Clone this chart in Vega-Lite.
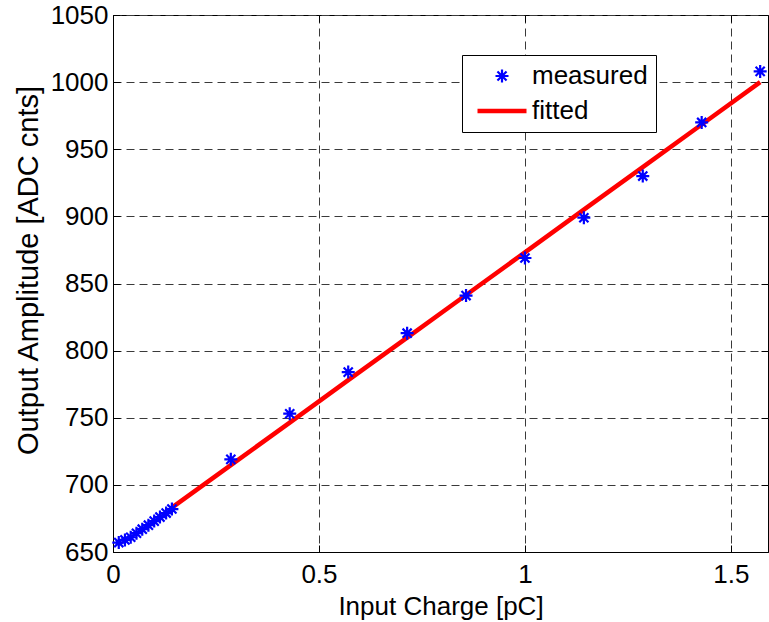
{
  "$schema": "https://vega.github.io/schema/vega-lite/v6.json",
  "width": 655,
  "height": 537,
  "autosize": {"type": "none"},
  "padding": {"left": 113, "top": 15, "right": 1, "bottom": 70},
  "background": "white",
  "config": {
    "view": {"stroke": "black", "strokeWidth": 1},
    "font": "Liberation Sans",
    "axis": {
      "labelFont": "Liberation Sans",
      "labelFontSize": 26,
      "labelColor": "black",
      "titleFont": "Liberation Sans",
      "titleFontWeight": "normal",
      "titleColor": "black",
      "domainColor": "black",
      "tickColor": "black",
      "gridColor": "#3a3a3a",
      "gridDash": [8, 5],
      "gridWidth": 1,
      "labelFlush": false,
      "labelOverlap": false
    },
    "legend": {
      "orient": "none", "legendX": 349, "legendY": 40,
      "fillColor": "white", "strokeColor": "black", "cornerRadius": 0,
      "padding": 8, "rowPadding": 9,
      "labelFont": "Liberation Sans", "labelFontSize": 26, "labelColor": "black",
      "symbolSize": 144, "symbolOffset": 19, "labelOffset": 17
    }
  },
  "data": {
    "values": [
      {"q": 0.014, "adc": 657, "fit": 654.3},
      {"q": 0.029, "adc": 659},
      {"q": 0.043, "adc": 661},
      {"q": 0.057, "adc": 664},
      {"q": 0.071, "adc": 667},
      {"q": 0.086, "adc": 670},
      {"q": 0.1, "adc": 673},
      {"q": 0.114, "adc": 676},
      {"q": 0.129, "adc": 679},
      {"q": 0.143, "adc": 682, "fit": 683},
      {"q": 0.286, "adc": 719, "fit": 714.7},
      {"q": 0.429, "adc": 753, "fit": 746.4},
      {"q": 0.571, "adc": 784, "fit": 778},
      {"q": 0.714, "adc": 813, "fit": 809.7},
      {"q": 0.857, "adc": 841, "fit": 841.4},
      {"q": 1.0, "adc": 869, "fit": 873.2},
      {"q": 1.143, "adc": 899, "fit": 905},
      {"q": 1.286, "adc": 930, "fit": 936.7},
      {"q": 1.429, "adc": 970, "fit": 968.4},
      {"q": 1.571, "adc": 1008, "fit": 1000}
    ]
  },
  "resolve": {"axis": {"x": "independent", "y": "independent"}},
  "layer": [
    {
      "mark": {"type": "line", "strokeWidth": 4.5, "clip": true},
      "encoding": {
        "x": {
          "field": "q", "type": "quantitative",
          "scale": {"domain": [0, 1.59], "nice": false, "zero": false},
          "axis": {"orient": "top", "values": [0, 0.5, 1, 1.5], "labels": false, "title": null, "grid": false, "domain": false, "tickSize": -7}
        },
        "y": {
          "field": "fit", "type": "quantitative",
          "scale": {"domain": [650, 1050], "nice": false, "zero": false},
          "axis": {"orient": "right", "values": [650, 700, 750, 800, 850, 900, 950, 1000, 1050], "labels": false, "title": null, "grid": false, "domain": false, "tickSize": -7}
        },
        "color": {
          "datum": "fitted", "type": "nominal",
          "legend": {
            "title": null,
            "encode": {
              "symbols": {
                "update": {
                  "shape": {"signal": "datum.value === 'measured' ? 'M-1,0L1,0M0,-1L0,1M-0.7,-0.7L0.7,0.7M-0.7,0.7L0.7,-0.7' : 'stroke'"},
                  "size": {"signal": "datum.value === 'measured' ? 169 : 2401"},
                  "stroke": {"signal": "datum.value === 'measured' ? '#0000ff' : '#ff0000'"},
                  "strokeWidth": {"signal": "datum.value === 'measured' ? 2.2 : 4.5"},
                  "fill": {"value": "transparent"},
                  "opacity": {"value": 1}
                }
              }
            }
          }
        }
      }
    },
    {
      "mark": {"type": "point", "filled": false, "size": 169, "strokeWidth": 2.2, "opacity": 1,
        "shape": "M-1,0L1,0M0,-1L0,1M-0.7,-0.7L0.7,0.7M-0.7,0.7L0.7,-0.7"},
      "encoding": {
        "x": {
          "field": "q", "type": "quantitative",
          "scale": {"domain": [0, 1.59], "nice": false, "zero": false},
          "axis": {"orient": "bottom", "values": [0, 0.5, 1, 1.5], "format": "~g", "tickSize": -7, "labelPadding": 16, "title": "Input Charge [pC]", "titleFontSize": 26, "titlePadding": 6, "domain": true, "grid": true}
        },
        "y": {
          "field": "adc", "type": "quantitative",
          "scale": {"domain": [650, 1050], "nice": false, "zero": false},
          "axis": {"orient": "left", "values": [650, 700, 750, 800, 850, 900, 950, 1000, 1050], "format": "d", "tickSize": -7, "labelPadding": 12, "title": "Output Amplitude [ADC cnts]", "titleFontSize": 29, "titleX": -85, "titleY": 255, "titleAngle": 270, "titleAlign": "center", "titleBaseline": "middle", "domain": true, "grid": true}
        },
        "color": {
          "datum": "measured", "type": "nominal",
          "scale": {"domain": ["measured", "fitted"], "range": ["#0000ff", "#ff0000"]},
          "legend": {
            "title": null,
            "encode": {
              "symbols": {
                "update": {
                  "shape": {"signal": "datum.value === 'measured' ? 'M-1,0L1,0M0,-1L0,1M-0.7,-0.7L0.7,0.7M-0.7,0.7L0.7,-0.7' : 'stroke'"},
                  "size": {"signal": "datum.value === 'measured' ? 169 : 2401"},
                  "stroke": {"signal": "datum.value === 'measured' ? '#0000ff' : '#ff0000'"},
                  "strokeWidth": {"signal": "datum.value === 'measured' ? 2.2 : 4.5"},
                  "fill": {"value": "transparent"},
                  "opacity": {"value": 1}
                }
              }
            }
          }
        }
      }
    }
  ]
}
